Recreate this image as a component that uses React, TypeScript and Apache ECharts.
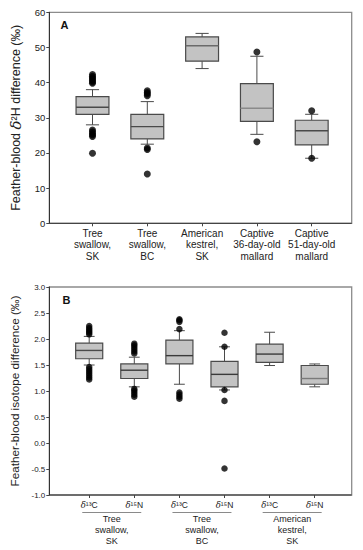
import React, { useEffect, useRef } from 'react';
import * as echarts from 'echarts';

// ---------- Panel A data ----------
const CATEGORIES_A = [
  'Tree\nswallow,\nSK',
  'Tree\nswallow,\nBC',
  'American\nkestrel,\nSK',
  'Captive\n36-day-old\nmallard',
  'Captive\n51-day-old\nmallard',
];
// [lower whisker, Q1, median, Q3, upper whisker]
const BOXES_A = [
  [28, 31, 33, 36, 38],
  [22.5, 24, 27.5, 31, 34.6],
  [44, 46.1, 50.5, 53, 54],
  [25.3, 29, 32.7, 39.7, 47.5],
  [18.5, 22.3, 26.3, 29.3, 31],
];
// [category index, value]
const OUTLIERS_A = [
  [0, 39.8], [0, 40.2], [0, 40.6], [0, 41], [0, 41.4], [0, 41.8], [0, 42.3],
  [0, 24.7], [0, 25.1], [0, 25.5], [0, 26], [0, 26.5], [0, 19.9],
  [1, 36.3], [1, 36.8], [1, 37.2], [1, 37.7], [1, 21.0], [1, 21.4], [1, 14],
  [3, 48.7], [3, 23.2],
  [4, 32.0], [4, 18.5],
];
const TICKS_A = { min: 0, max: 60, interval: 10 };

// ---------- Panel B data ----------
const CATEGORIES_B = ['δ¹³C', 'δ¹⁵N', 'δ¹³C', 'δ¹⁵N', 'δ¹³C', 'δ¹⁵N'];
const GROUPS_B = ['Tree\nswallow,\nSK', 'Tree\nswallow,\nBC', 'American\nkestrel,\nSK'];
const BOXES_B = [
  [1.50, 1.62, 1.78, 1.92, 2.05],
  [1.08, 1.24, 1.40, 1.52, 1.65],
  [1.13, 1.52, 1.68, 1.98, 2.16],
  [1.02, 1.08, 1.32, 1.57, 1.85],
  [1.49, 1.55, 1.71, 1.90, 2.13],
  [1.08, 1.13, 1.24, 1.49, 1.52],
];
const OUTLIERS_B = [
  [0, 2.09], [0, 2.12], [0, 2.15], [0, 2.18], [0, 2.21], [0, 2.25],
  [0, 1.22], [0, 1.26], [0, 1.30], [0, 1.34], [0, 1.38], [0, 1.42], [0, 1.46],
  [1, 1.72], [1, 1.76], [1, 1.80], [1, 1.84], [1, 1.88], [1, 1.91],
  [1, 0.89], [1, 0.93], [1, 0.97], [1, 1.01], [1, 1.04],
  [2, 2.19], [2, 2.33], [2, 2.36], [2, 2.38],
  [2, 0.85], [2, 0.89], [2, 0.93], [2, 0.97],
  [3, 2.12], [3, 1.85], [3, 1.02], [3, 0.81], [3, -0.49],
];
const TICKS_B = { min: -1, max: 3, interval: 0.5 };

// ---------- styles ----------
const FONT = '"Liberation Sans", Arial, sans-serif';
const BOX_FILL = '#c3c3c3';
const LINE = '#4a4a4a';
const MEDIAN_COLORS_A = ['#4a4a4a', '#4a4a4a', '#6a6a6a', '#8a8a8a', '#4a4a4a'];
const MEDIAN_COLORS_B = ['#4a4a4a', '#3a3a3a', '#3a3a3a', '#3a3a3a', '#3a3a3a', '#7a7a7a'];

const makeRender = (medianColors: string[]) => (params: any, api: any) => {
  const i = api.value(0);
  const band = api.size([1, 0])[0];
  const bw = band * 0.6;
  const cw = band * 0.24;
  const x = api.coord([i, api.value(1)])[0];
  const yLow = api.coord([i, api.value(1)])[1];
  const yQ1 = api.coord([i, api.value(2)])[1];
  const yMed = api.coord([i, api.value(3)])[1];
  const yQ3 = api.coord([i, api.value(4)])[1];
  const yHigh = api.coord([i, api.value(5)])[1];
  const ls = { stroke: LINE, lineWidth: 1 };
  return {
    type: 'group',
    children: [
      { type: 'line', shape: { x1: x, y1: yQ3, x2: x, y2: yHigh }, style: ls },
      { type: 'line', shape: { x1: x, y1: yQ1, x2: x, y2: yLow }, style: ls },
      { type: 'line', shape: { x1: x - cw / 2, y1: yHigh, x2: x + cw / 2, y2: yHigh }, style: ls },
      { type: 'line', shape: { x1: x - cw / 2, y1: yLow, x2: x + cw / 2, y2: yLow }, style: ls },
      {
        type: 'rect',
        shape: { x: x - bw / 2, y: yQ3, width: bw, height: yQ1 - yQ3 },
        style: { fill: BOX_FILL, stroke: LINE, lineWidth: 1.2 },
      },
      {
        type: 'line',
        shape: { x1: x - bw / 2, y1: yMed, x2: x + bw / 2, y2: yMed },
        style: { stroke: medianColors[i] || LINE, lineWidth: 1.4 },
      },
    ],
  };
};

const yName = {
  fontFamily: FONT,
  color: '#222',
  rich: {
    n: { fontSize: 12.5, fontFamily: FONT, color: '#222' },
    d: { fontSize: 15, fontFamily: 'DejaVu Serif, serif', fontStyle: 'italic', color: '#222' },
    b: { fontSize: 11.7, fontFamily: FONT, color: '#222' },
  },
};

export default function App() {
  const ref = useRef<HTMLDivElement>(null);
  useEffect(() => {
    const chart = echarts.init(ref.current!, null, { renderer: 'svg' });
    const option: any = {
      animation: false,
      backgroundColor: '#fff',
      textStyle: { fontFamily: FONT },
      grid: [
        { left: 65.1, right: 23.9, top: 12.3, height: 211 },
        { left: 66.65, right: 25.75, top: 287, height: 208 },
      ],
      xAxis: [
        {
          type: 'category',
          gridIndex: 0,
          data: CATEGORIES_A,
          axisLine: { show: false, onZero: false },
          axisTick: { show: true, alignWithLabel: true, length: 3, interval: 0, lineStyle: { color: '#444' } },
          axisLabel: { interval: 0, fontSize: 10, lineHeight: 11.5, color: '#222', margin: 4, fontFamily: FONT },
          splitLine: { show: false },
        },
        {
          type: 'category',
          gridIndex: 1,
          data: CATEGORIES_B,
          axisLine: { show: false, onZero: false },
          axisTick: { show: true, alignWithLabel: true, length: 3, interval: 0, lineStyle: { color: '#444' } },
          axisLabel: {
            interval: 0,
            margin: 5,
            formatter: (v: string) => '{d|δ}{t|' + v.slice(1) + '}',
            rich: {
              d: { fontSize: 8.5, fontStyle: 'italic', fontFamily: 'DejaVu Serif, serif', color: '#222' },
              t: { fontSize: 8.5, fontFamily: FONT, color: '#222' },
            },
          },
          splitLine: { show: false },
        },
        {
          type: 'category',
          gridIndex: 1,
          position: 'bottom',
          data: GROUPS_B,
          axisLine: { show: false, onZero: false },
          axisTick: { show: false },
          axisLabel: {
            interval: 0,
            margin: 16,
            formatter: (v: string) =>
              '{ul|}\n' + v.split('\n').map((s) => '{t|' + s + '}').join('\n'),
            rich: {
              ul: { width: 59, height: 1, lineHeight: 3, backgroundColor: '#8a8a8a' },
              t: { fontSize: 9, lineHeight: 10.8, fontFamily: FONT, color: '#222' },
            },
          },
          splitLine: { show: false },
        },
      ],
      yAxis: [
        {
          type: 'value',
          gridIndex: 0,
          min: TICKS_A.min,
          max: TICKS_A.max,
          interval: TICKS_A.interval,
          offset: 15.8,
          axisLine: { show: true, lineStyle: { color: '#333' } },
          axisTick: { show: true, length: 3, lineStyle: { color: '#444' } },
          axisLabel: { fontSize: 9.5, color: '#222', margin: 4, fontFamily: FONT },
          splitLine: { show: false },
          name: '{n|Feather-blood }{d|δ}{n|²H difference (‰)}',
          nameLocation: 'middle',
          nameGap: 24,
          nameTextStyle: yName,
        },
        {
          type: 'value',
          gridIndex: 1,
          min: TICKS_B.min,
          max: TICKS_B.max,
          interval: TICKS_B.interval,
          offset: 17.35,
          axisLine: { show: true, lineStyle: { color: '#333' } },
          axisTick: { show: true, length: 3, lineStyle: { color: '#444' } },
          axisLabel: {
            fontSize: 8,
            color: '#222',
            margin: 4,
            fontFamily: FONT,
            formatter: (v: number) => v.toFixed(1),
          },
          splitLine: { show: false },
          name: '{b|Feather-blood isotope difference (‰)}',
          nameLocation: 'middle',
          nameGap: 25,
          nameTextStyle: yName,
        },
      ],
      series: [
        {
          type: 'custom',
          xAxisIndex: 0,
          yAxisIndex: 0,
          renderItem: makeRender(MEDIAN_COLORS_A),
          encode: { x: 0, y: [1, 2, 3, 4, 5] },
          data: BOXES_A.map((b, i) => [i, ...b]),
          z: 2,
        },
        {
          type: 'scatter',
          xAxisIndex: 0,
          yAxisIndex: 0,
          symbolSize: 7,
          itemStyle: { color: '#000' },
          data: OUTLIERS_A,
          z: 3,
        },
        {
          type: 'custom',
          xAxisIndex: 1,
          yAxisIndex: 1,
          renderItem: makeRender(MEDIAN_COLORS_B),
          encode: { x: 0, y: [1, 2, 3, 4, 5] },
          data: BOXES_B.map((b, i) => [i, ...b]),
          z: 2,
        },
        {
          type: 'scatter',
          xAxisIndex: 1,
          yAxisIndex: 1,
          symbolSize: 6.5,
          itemStyle: { color: '#000' },
          data: OUTLIERS_B,
          z: 3,
        },
      ],
      graphic: [
        {
          type: 'rect',
          silent: true,
          z: 0,
          shape: { x: 49.3, y: 12.3, width: 302.4, height: 211 },
          style: { fill: 'none', stroke: '#8c8c8c', lineWidth: 1.3 },
        },
        {
          type: 'line',
          silent: true,
          shape: { x1: 49.3, y1: 223.3, x2: 351.7, y2: 223.3 },
          style: { stroke: '#333', lineWidth: 1 },
        },
        {
          type: 'rect',
          silent: true,
          z: 0,
          shape: { x: 49.3, y: 287, width: 302.4, height: 208 },
          style: { fill: 'none', stroke: '#8c8c8c', lineWidth: 1.3 },
        },
        {
          type: 'line',
          silent: true,
          shape: { x1: 49.3, y1: 495, x2: 351.7, y2: 495 },
          style: { stroke: '#333', lineWidth: 1 },
        },
        {
          type: 'text',
          left: 60.5,
          top: 19,
          style: { text: 'A', font: `bold 11px ${FONT}`, fill: '#111' },
        },
        {
          type: 'text',
          left: 62.5,
          top: 294,
          style: { text: 'B', font: `bold 11px ${FONT}`, fill: '#111' },
        },
      ],
    };
    chart.setOption(option);
    return () => chart.dispose();
  }, []);
  return (
    <div
      ref={ref}
      style={{ position: 'fixed', left: 0, top: 0, width: 363, height: 550 }}
    />
  );
}
